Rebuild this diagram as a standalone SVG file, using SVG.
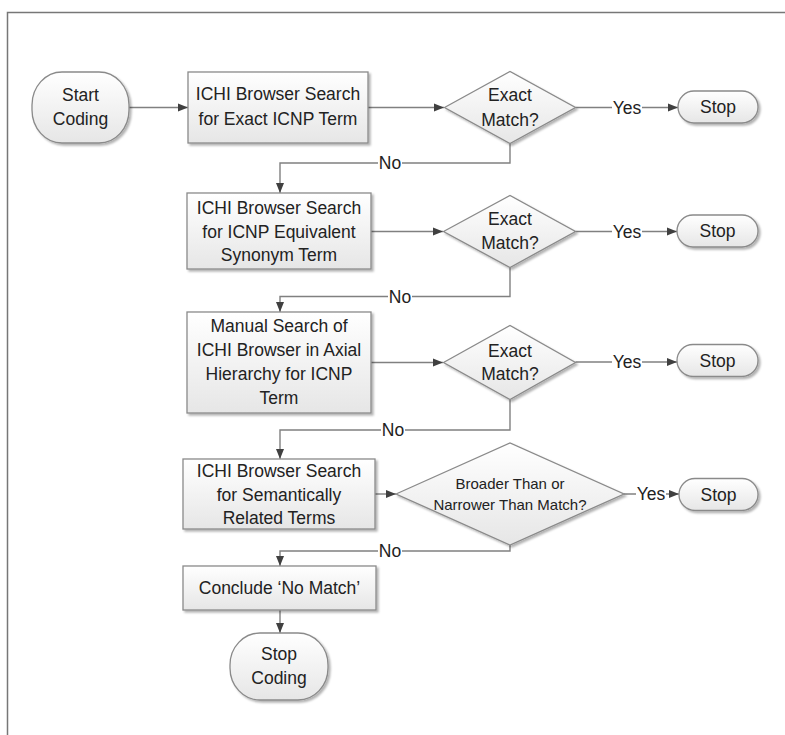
<svg xmlns="http://www.w3.org/2000/svg" width="785" height="735" viewBox="0 0 785 735">
<defs>
<linearGradient id="g" x1="0" y1="0" x2="0" y2="1">
<stop offset="0" stop-color="#ffffff"/>
<stop offset="1" stop-color="#e6e6e6"/>
</linearGradient>
<filter id="sh" x="-10%" y="-10%" width="125%" height="130%">
<feDropShadow dx="2" dy="2" stdDeviation="1.2" flood-color="#000" flood-opacity="0.3"/>
</filter>
<marker id="ar" markerWidth="10" markerHeight="10" refX="10" refY="5" orient="auto" markerUnits="userSpaceOnUse">
<path d="M0,1 L10,5 L0,9 Z" fill="#404040"/>
</marker>
<style>
.n{fill:url(#g);stroke:#8a8a8a;stroke-width:1.3;filter:url(#sh)}
.t{font-family:"Liberation Sans",Arial,sans-serif;font-size:17.5px;fill:#222;text-anchor:middle}
.s{font-size:15px}
.c{fill:none;stroke:#808080;stroke-width:1.4}
.a{marker-end:url(#ar)}
.lb{fill:#fff}
</style>
</defs>
<rect width="785" height="735" fill="#fff"/>
<path d="M7.5,735 V12.5 H785" fill="none" stroke="#777" stroke-width="1.5"/>

<g id="connectors">
<path class="c a" d="M129,107.5 H188"/>
<path class="c a" d="M368,107.5 H444"/>
<path class="c a" d="M575.5,107.5 H678"/>
<path class="c a" d="M510,143.5 V163 H280 V193"/>
<path class="c a" d="M371,231.5 H443"/>
<path class="c a" d="M575.5,231.5 H677"/>
<path class="c a" d="M510,267.5 V296.5 H280 V312"/>
<path class="c a" d="M371,362.5 H443"/>
<path class="c a" d="M575.5,362 H677"/>
<path class="c a" d="M510,399.5 V430 H280 V459"/>
<path class="c a" d="M375,494 H396"/>
<path class="c a" d="M624,494 H679"/>
<path class="c a" d="M510,545 V551 H280 V566"/>
<path class="c a" d="M280,610 V633"/>
<rect class="lb" x="612" y="98" width="30" height="18"/><text class="t" x="627" y="113.5">Yes</text>
<rect class="lb" x="378" y="154" width="24" height="18"/><text class="t" x="390" y="169">No</text>
<rect class="lb" x="612" y="222" width="30" height="18"/><text class="t" x="627" y="237.5">Yes</text>
<rect class="lb" x="388" y="288" width="24" height="18"/><text class="t" x="400" y="302.5">No</text>
<rect class="lb" x="612" y="352" width="30" height="18"/><text class="t" x="627" y="367.5">Yes</text>
<rect class="lb" x="381" y="421" width="24" height="18"/><text class="t" x="393" y="436">No</text>
<rect class="lb" x="636" y="485" width="30" height="18"/><text class="t" x="651" y="500">Yes</text>
<rect class="lb" x="378" y="542" width="24" height="18"/><text class="t" x="390" y="557">No</text>
</g>

<g id="start">
<rect class="n" x="32" y="72" width="97" height="71" rx="30" ry="33"/>
<text class="t" x="80.5" y="101">Start</text>
<text class="t" x="80.5" y="125">Coding</text>
</g>
<g id="box1">
<rect class="n" x="188" y="72" width="180" height="71"/>
<text class="t" x="278" y="100">ICHI Browser Search</text>
<text class="t" x="278" y="125">for Exact ICNP Term</text>
</g>
<g id="d1">
<polygon class="n" points="444.5,107.5 510,71.5 575.5,107.5 510,143.5"/>
<text class="t" x="510" y="101">Exact</text>
<text class="t" x="510" y="125.5">Match?</text>
</g>
<g id="stop1">
<rect class="n" x="678" y="91" width="80" height="32" rx="16"/>
<text class="t" x="718" y="113">Stop</text>
</g>
<g id="box2">
<rect class="n" x="187" y="193" width="184" height="76"/>
<text class="t" x="279" y="213.5">ICHI Browser Search</text>
<text class="t" x="279" y="237.5">for ICNP Equivalent</text>
<text class="t" x="279" y="261">Synonym Term</text>
</g>
<g id="d2">
<polygon class="n" points="443.5,231.5 510,195.5 575.5,231.5 510,267.5"/>
<text class="t" x="510" y="225">Exact</text>
<text class="t" x="510" y="248.5">Match?</text>
</g>
<g id="stop2">
<rect class="n" x="677" y="215" width="81" height="32" rx="16"/>
<text class="t" x="717.5" y="237">Stop</text>
</g>
<g id="box3">
<rect class="n" x="187" y="312" width="184" height="101"/>
<text class="t" x="279" y="332">Manual Search of</text>
<text class="t" x="279" y="356">ICHI Browser in Axial</text>
<text class="t" x="279" y="380">Hierarchy for ICNP</text>
<text class="t" x="279" y="404">Term</text>
</g>
<g id="d3">
<polygon class="n" points="443.5,362.5 510,325.5 575.5,362.5 510,399.5"/>
<text class="t" x="510" y="356.5">Exact</text>
<text class="t" x="510" y="379.5">Match?</text>
</g>
<g id="stop3">
<rect class="n" x="677" y="344.5" width="81" height="32" rx="16"/>
<text class="t" x="717.5" y="366.5">Stop</text>
</g>
<g id="box4">
<rect class="n" x="183" y="459" width="192" height="70"/>
<text class="t" x="279" y="477">ICHI Browser Search</text>
<text class="t" x="279" y="500.5">for Semantically</text>
<text class="t" x="279" y="523.5">Related Terms</text>
</g>
<g id="d4">
<polygon class="n" points="396,494 510,443 624,494 510,545"/>
<text class="t s" x="510" y="488.5">Broader Than or</text>
<text class="t s" x="510" y="509.5">Narrower Than Match?</text>
</g>
<g id="stop4">
<rect class="n" x="679" y="478.5" width="79" height="32" rx="16"/>
<text class="t" x="718.5" y="500.5">Stop</text>
</g>
<g id="box5">
<rect class="n" x="183" y="566" width="193" height="44"/>
<text class="t" x="279.5" y="593.5">Conclude ‘No Match’</text>
</g>
<g id="stopcoding">
<rect class="n" x="230" y="633" width="98" height="67" rx="30" ry="32"/>
<text class="t" x="279" y="660">Stop</text>
<text class="t" x="279" y="684">Coding</text>
</g>
</svg>
